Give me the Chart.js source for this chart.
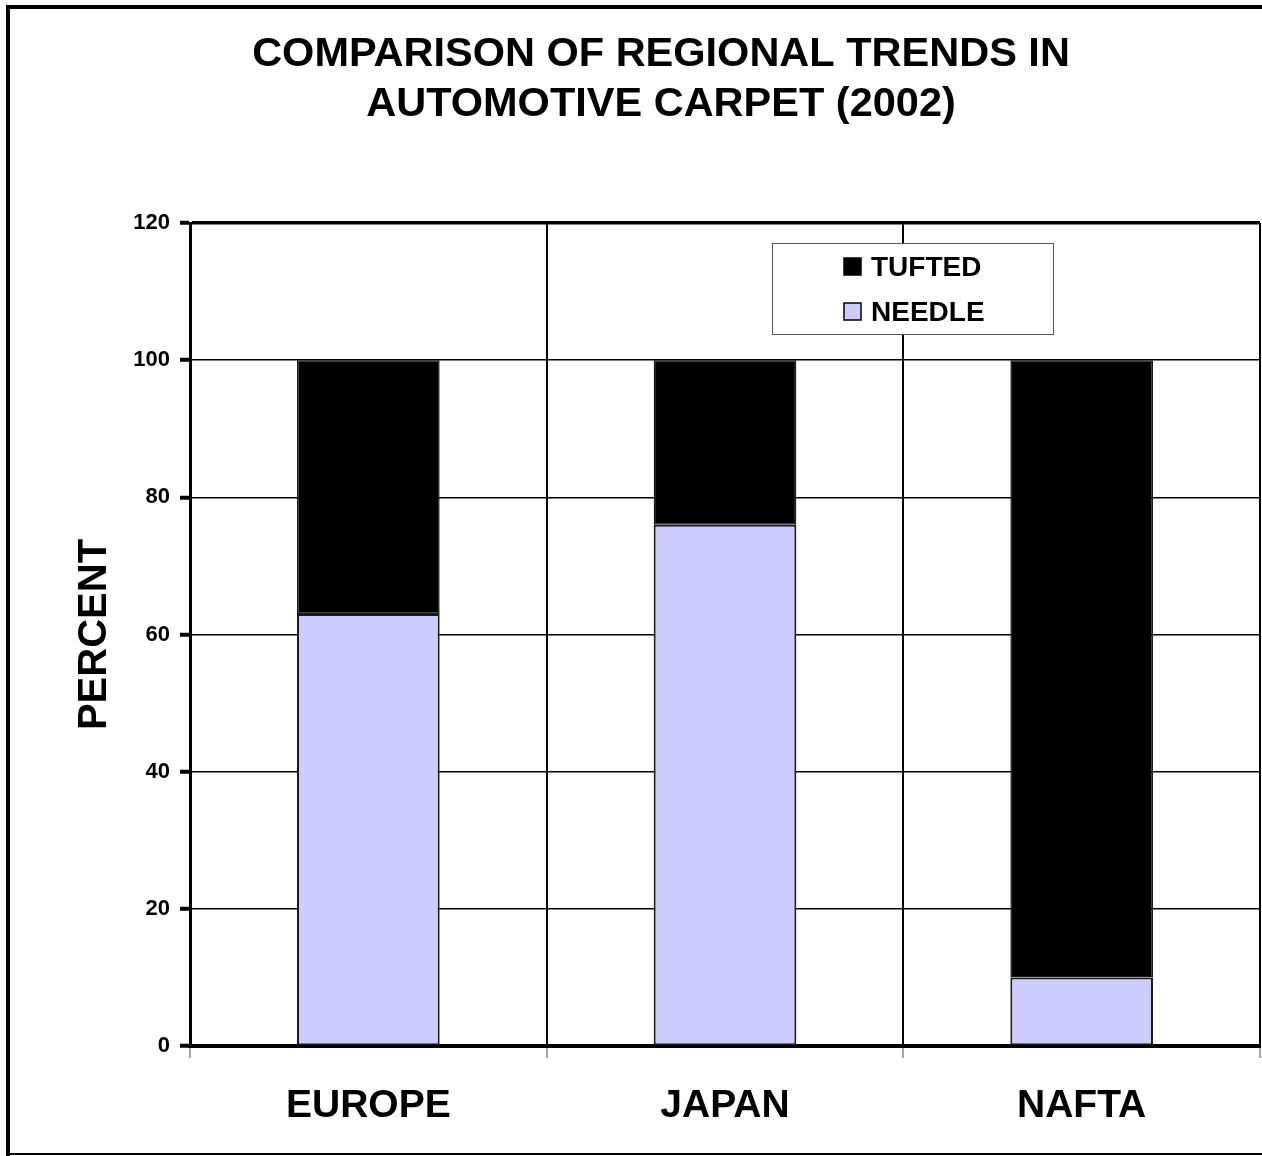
<!DOCTYPE html>
<html>
<head>
<meta charset="utf-8">
<title>Regional trends in automotive carpet</title>
<script src="https://cdn.jsdelivr.net/npm/chart.js@4.4.1/dist/chart.umd.min.js"></script>
<style>
  html, body { margin: 0; padding: 0; background: #fff; }
  canvas { display: block; }
</style>
</head>
<body>
<canvas id="chart" width="1262" height="1156"></canvas>
<script>
// data (percent of each region)
const regions = ["EUROPE", "JAPAN", "NAFTA"];
const needle = [63, 76, 10];
const tufted = [37, 24, 90];
const yTicks = [0, 20, 40, 60, 80, 100, 120];

const FONT = "'Liberation Sans', Arial, Helvetica, sans-serif";

// legend box drawn inside the plot, top right
const boxLegend = {
  id: "boxLegend",
  afterDatasetsDraw(chart) {
    const { ctx, chartArea } = chart;
    const w = 281, h = 91;
    const x = chartArea.right - 207 - w;
    const y = chartArea.top + 20;
    ctx.save();
    ctx.fillStyle = "#fff";
    ctx.fillRect(x, y, w, h);
    ctx.strokeStyle = "#555";
    ctx.lineWidth = 1;
    ctx.strokeRect(x + 0.5, y + 0.5, w, h);

    const items = [chart.data.datasets[1], chart.data.datasets[0]];
    ctx.font = "bold 28px " + FONT;
    ctx.textBaseline = "middle";
    items.forEach((ds, i) => {
      const cy = y + 24 + i * 45;
      ctx.fillStyle = ds.backgroundColor;
      ctx.fillRect(x + 72, cy - 9, 17, 17);
      ctx.strokeStyle = "#000";
      ctx.lineWidth = 1.5;
      ctx.strokeRect(x + 72, cy - 9, 17, 17);
      ctx.fillStyle = "#000";
      ctx.fillText(ds.label, x + 99, cy + 1);
    });
    ctx.restore();
  },
  afterDraw(chart) {
    // outer frame of the picture
    const { ctx, width, height } = chart;
    ctx.save();
    ctx.strokeStyle = "#000";
    ctx.lineWidth = 4;
    ctx.beginPath();
    ctx.moveTo(8, height);
    ctx.lineTo(8, 7);
    ctx.lineTo(width + 5, 7);
    ctx.stroke();
    ctx.lineWidth = 2;
    ctx.beginPath();
    ctx.moveTo(8, height - 2);
    ctx.lineTo(width, height - 2);
    ctx.stroke();
    ctx.restore();
  }
};

new Chart(document.getElementById("chart"), {
  type: "bar",
  data: {
    labels: regions,
    datasets: [
      {
        label: "NEEDLE",
        data: needle,
        backgroundColor: "#CCCCFF",
        borderColor: "#1a1a1a",
        borderWidth: 2,
        borderSkipped: false
      },
      {
        label: "TUFTED",
        data: tufted,
        backgroundColor: "#000000",
        borderColor: "#1a1a1a",
        borderWidth: 1.5,
        borderSkipped: false
      }
    ]
  },
  options: {
    responsive: false,
    animation: false,
    devicePixelRatio: 1,
    datasets: { bar: { categoryPercentage: 1, barPercentage: 0.4 } },
    layout: { padding: { left: 62, right: 2, top: 0, bottom: 0 } },
    plugins: {
      legend: { display: false },
      tooltip: { enabled: false },
      title: {
        display: true,
        text: ["COMPARISON OF REGIONAL TRENDS IN", "AUTOMOTIVE CARPET (2002)"],
        color: "#000",
        font: { family: FONT, size: 41.5, weight: "bold", lineHeight: 50 / 41.5 },
        padding: { top: 30, bottom: 93 }
      }
    },
    scales: {
      x: {
        stacked: true,
        grid: {
          color: "#000",
          lineWidth: (c) => (c.index === regions.length ? 3 : 2),
          tickColor: "#888",
          tickWidth: 1.5,
          tickLength: 12,
          offset: true
        },
        border: { color: "#000", width: 4 },
        ticks: {
          color: "#000",
          padding: 25,
          font: { family: FONT, size: 39, weight: "bold" }
        },
        afterFit: (s) => { s.height = 110; }
      },
      y: {
        stacked: true,
        min: 0,
        max: 120,
        afterBuildTicks: (s) => { s.ticks = yTicks.map((v) => ({ value: v })); },
        grid: {
          color: "#000",
          lineWidth: (c) => (c.tick && c.tick.value === 120 ? 3.5 : 1.5),
          tickLength: 10,
          tickColor: "#000",
          tickWidth: 4
        },
        border: { color: "#000", width: 3 },
        ticks: {
          color: "#000",
          padding: 10,
          font: { family: FONT, size: 22, weight: "bold" }
        },
        title: {
          display: true,
          text: "PERCENT",
          color: "#000",
          padding: { top: 9, bottom: 0 },
          font: { family: FONT, size: 40, weight: "bold", lineHeight: 1.2 }
        },
        afterFit: (s) => { s.width = 128; }
      }
    }
  },
  plugins: [boxLegend]
});
</script>
</body>
</html>
